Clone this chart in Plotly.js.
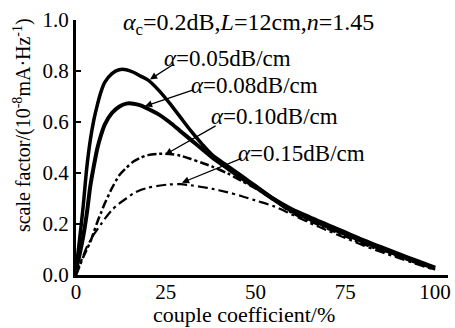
<!DOCTYPE html>
<html>
<head>
<meta charset="utf-8">
<script src="https://cdn.plot.ly/plotly-3.0.1.min.js"></script>
<style>html,body{margin:0;padding:0;background:#fff;}#chart{width:455px;height:328px;}</style>
</head>
<body>
<div id="chart"></div>
<script>
// coupling coefficient (%)
const coupling = [0,1,2,3,4,5,6,7,8,10,12,14,16,18,20,23,26,29,32,35,38,42,46,50,55,60,65,70,75,80,85,90,95,100];
// scale factor (10^-8 mA·Hz^-1) for each fibre loss
const sf005 = [0.02,0.14,0.27,0.42,0.53,0.61,0.67,0.72,0.755,0.79,0.805,0.805,0.795,0.78,0.765,0.725,0.675,0.62,0.565,0.515,0.47,0.43,0.39,0.35,0.30,0.26,0.228,0.198,0.168,0.138,0.11,0.083,0.056,0.03];
const sf008 = [0.02,0.08,0.15,0.24,0.35,0.43,0.50,0.55,0.59,0.635,0.66,0.672,0.672,0.665,0.652,0.63,0.60,0.565,0.53,0.495,0.46,0.42,0.38,0.345,0.297,0.252,0.22,0.19,0.16,0.13,0.103,0.077,0.051,0.026];
const sf010 = [0,0.035,0.07,0.1,0.13,0.17,0.21,0.245,0.28,0.34,0.39,0.42,0.445,0.46,0.47,0.475,0.475,0.468,0.455,0.44,0.425,0.4,0.37,0.34,0.295,0.245,0.212,0.182,0.152,0.122,0.096,0.071,0.046,0.022];
const sf015 = [0,0.04,0.075,0.11,0.135,0.16,0.18,0.2,0.22,0.255,0.28,0.3,0.32,0.333,0.342,0.35,0.355,0.356,0.352,0.345,0.338,0.325,0.31,0.292,0.27,0.238,0.205,0.175,0.145,0.116,0.09,0.066,0.042,0.02];
const seriesNames = ['α=0.05dB/cm','α=0.08dB/cm','α=0.10dB/cm','α=0.15dB/cm'];
const xTicks = [0,25,50,75,100];
const yTicks = [0,0.2,0.4,0.6,0.8,1.0];
const yTickText = ['0.0','0.2','0.4','0.6','0.8','1.0'];

const FONT = 'Liberation Serif, Times New Roman, serif';
const styles = [
  {width:3.5, dash:'solid'},
  {width:4, dash:'solid'},
  {width:2.5, dash:'dashdot'},
  {width:2.2, dash:'10px,4px,3px,4px'}
];
const ys = [sf005, sf008, sf010, sf015];
const traces = ys.map((y,i)=>({
  x: coupling, y: y, type:'scatter', mode:'lines', name: seriesNames[i],
  line:{color:'#000', width:styles[i].width, dash:styles[i].dash, shape:'spline', smoothing:0.8},
  hoverinfo:'skip'
}));

// label positions (data coords) and arrow tail/head
const labelPos = [[24.0,0.851],[31.6,0.743],[37.1,0.62],[44.6,0.478]];
const arrowTail = [[27.6,0.83],[33.1,0.728],[39.3,0.588],[46.5,0.46]];
const arrowHead = [[20.6,0.767],[19.2,0.662],[24.8,0.472],[29.5,0.362]];

const annotations = [];
seriesNames.forEach((n,i)=>{
  annotations.push({xref:'x',yref:'y',x:labelPos[i][0],y:labelPos[i][1],xanchor:'left',yanchor:'middle',
    text:'<i>α</i>='+n.slice(2), showarrow:false, font:{family:FONT,size:23,color:'#000'}});
  annotations.push({xref:'x',yref:'y',axref:'x',ayref:'y',x:arrowHead[i][0],y:arrowHead[i][1],
    ax:arrowTail[i][0],ay:arrowTail[i][1],text:'',showarrow:true,arrowhead:2,arrowsize:1.1,arrowwidth:1.3,arrowcolor:'#000'});
});
annotations.push({xref:'x',yref:'y',x:12.6,y:0.985,xanchor:'left',yanchor:'middle',
  text:'<i>α</i><sub>c</sub>=0.2dB,<i>L</i>=12cm,<i>n</i>=1.45',showarrow:false,font:{family:FONT,size:24,color:'#000'}});
annotations.push({xref:'paper',yref:'paper',x:-0.145,y:0.588,xanchor:'center',yanchor:'middle',textangle:-90,
  text:'scale factor/(10<sup>-8</sup>mA·Hz<sup>-1</sup>)',showarrow:false,font:{family:FONT,size:20,color:'#000'}});
annotations.push({xref:'paper',yref:'paper',x:0.452,y:-0.155,xanchor:'center',yanchor:'middle',
  text:'couple coefficient/%',showarrow:false,font:{family:FONT,size:22,color:'#000'}});

const layout = {
  width:455, height:328,
  margin:{l:76,r:7,t:20,b:53},
  paper_bgcolor:'#fff', plot_bgcolor:'#fff',
  showlegend:false,
  xaxis:{range:[0,103.6], tickvals:xTicks, ticktext:xTicks.map(String), showline:true, linewidth:3, linecolor:'#000',
    ticks:'', ticklabelstandoff:-4, showgrid:false, zeroline:false, tickfont:{family:FONT,size:21,color:'#000'}},
  yaxis:{range:[0,1.0], tickvals:yTicks, ticktext:yTickText, showline:true, linewidth:3, linecolor:'#000',
    ticks:'inside', ticklen:5, tickwidth:2, tickcolor:'#000', showgrid:false, zeroline:false,
    tickfont:{family:FONT,size:21,color:'#000'}},
  annotations: annotations
};
Plotly.newPlot('chart', traces, layout, {displayModeBar:false, staticPlot:true});
</script>
</body>
</html>
